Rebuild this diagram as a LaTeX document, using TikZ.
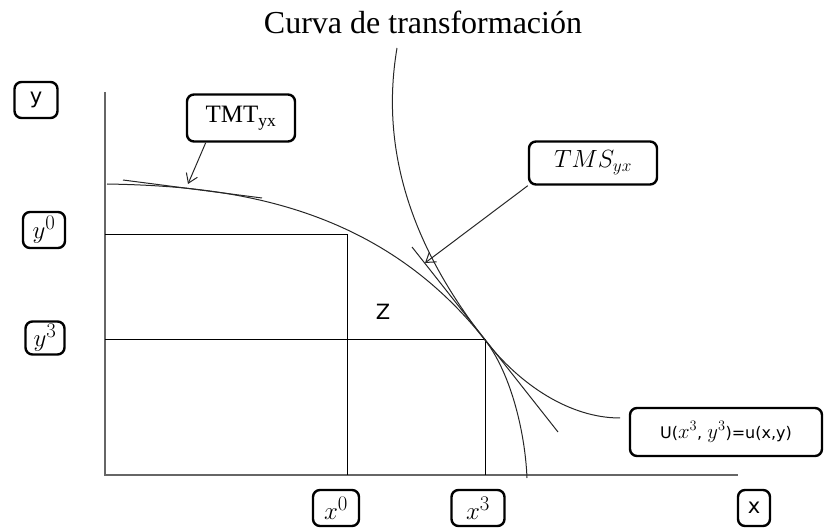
\documentclass[tikz,border=0pt]{standalone}
\usepackage{fontspec}
\setmainfont{Liberation Serif}
\newfontfamily\labelsans{DejaVu Sans}
\usetikzlibrary{arrows.meta}
\definecolor{axisgray}{gray}{.4}
\definecolor{curvegray}{gray}{.15}
\newcommand{\tagheight}{36}
\newcommand{\bigmath}{\fontsize{30}{34}\selectfont}
\tikzset{
    tag/.style={draw, rounded corners=7pt, line width=2.4pt, inner sep=1pt, minimum height=\tagheight},
    sanstag/.style={tag, font=\labelsans\fontsize{21}{25}\selectfont},
    mathtag/.style={tag, font=\bigmath},
    axis/.style={axisgray, line width=1.4pt},
    box/.style={black, line width=1pt},
    curve/.style={curvegray, line width=1pt},
    pointer/.style={curvegray, line width=1pt, -{Straight Barb[length=9pt, width=12pt]}}
}

\begin{document}
\begin{tikzpicture}[x=1pt, y=-1pt]
    \useasboundingbox (0,0) rectangle (828,529);

    \node[font=\fontsize{32}{38}\selectfont] (title) at (423,22) {Curva de transformación};

    \coordinate (origin) at (105,475);
    \coordinate (ytop) at (105,92);
    \coordinate (xend) at (738,475);
    \coordinate (p0) at (347,235);
    \coordinate (p3) at (485,340);
    \coordinate (tmt-pt) at (188,184);
    \coordinate (tms-pt) at (425,263);

    \draw[axis] (ytop) -- (origin) -- (xend);
    \draw[box] (origin |- p0) -| (origin -| p0);
    \draw[box] (origin |- p3) -| (origin -| p3);

    \draw[curve] (107,184) .. controls (220,186) and (375,200) .. (p3)
        .. controls (510,372) and (525,430) .. (527,478);
    \draw[curve] (397,48) .. controls (378,160) and (420,257) .. (p3)
        .. controls (520,385) and (570,418) .. (620,418);
    \draw[curve] (123,180) -- (262,198);
    \draw[curve] (412,247) -- (558,432);

    \node[font=\labelsans\fontsize{21}{25}\selectfont] (z) at (383,312) {Z};

    \node[sanstag, minimum width=43] (lab-y) at (36,100) {y};
    \node[mathtag, minimum width=42] (lab-y0) at (44,230) {$y^0$};
    \node[mathtag, minimum width=39, minimum height=33] (lab-y3) at (45,338) {$y^3$};
    \node[mathtag, minimum width=46] (lab-x0) at (336,508) {$x^0$};
    \node[mathtag, minimum width=53] (lab-x3) at (478,508) {$x^3$};
    \node[sanstag, minimum width=32] (lab-x) at (754,508) {x};
    \node[tag, minimum width=108, minimum height=47, font=\fontsize{25}{29}\selectfont] (tmt) at (241,118) {TMT\textsubscript{yx}};
    \node[tag, minimum width=128, minimum height=43, font=\fontsize{25}{29}\selectfont] (tms) at (593,163) {$TMS_{yx}$};
    \node[tag, minimum width=192, minimum height=48, font=\labelsans\fontsize{16}{19}\selectfont] (util) at (726,432) {U({\fontsize{20}{24}\selectfont$x^3$}, {\fontsize{20}{24}\selectfont$y^3$})=u(x,y)};

    \draw[pointer] (tmt.215) -- (tmt-pt);
    \draw[pointer] (tms.south west) -- (tms-pt);
\end{tikzpicture}
\end{document}
